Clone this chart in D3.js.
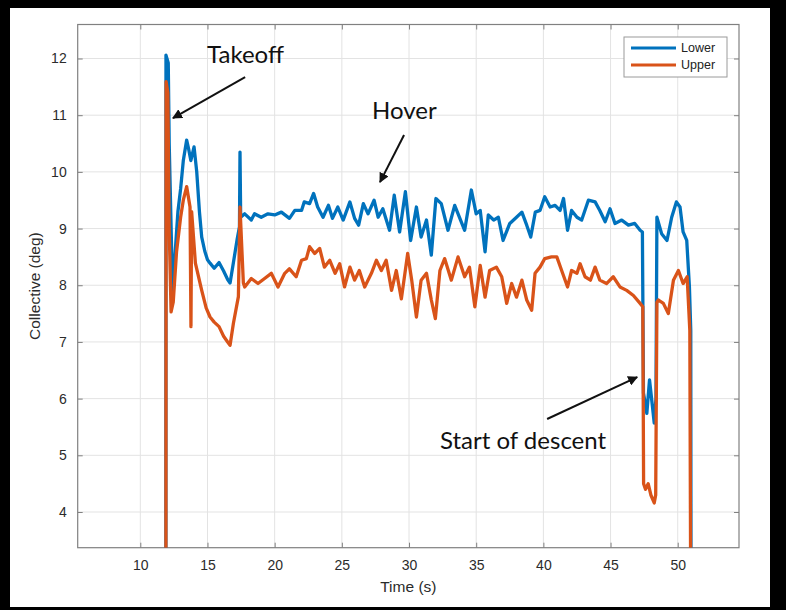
<!DOCTYPE html>
<html>
<head>
<meta charset="utf-8">
<script src="https://cdn.jsdelivr.net/npm/d3@7"></script>
<style>
  html, body { margin: 0; padding: 0; background: #000; }
  svg { display: block; }
</style>
</head>
<body>
<svg id="chart"></svg>
<script>
// collective pitch, lower rotor: [time (s), deg]
const lowerSeries = [
    [11.9, 0], [11.91, 12.06], [12.08, 11.92], [12.15, 10.5], [12.4, 7.91], [12.6, 8.6], [12.8, 9.3],
    [13.0, 9.7], [13.2, 10.2], [13.45, 10.56], [13.6, 10.4], [13.76, 10.2], [14.0, 10.44], [14.2, 10.0],
    [14.4, 9.3], [14.57, 8.85], [14.8, 8.6], [15.0, 8.45], [15.19, 8.39], [15.5, 8.3], [15.86, 8.4],
    [16.2, 8.25], [16.5, 8.1], [16.68, 8.04], [16.93, 8.4], [17.2, 8.8], [17.38, 9.03], [17.42, 10.35],
    [17.47, 9.2], [17.77, 9.26], [18.26, 9.15], [18.5, 9.26], [19.0, 9.2], [19.5, 9.26], [20.0, 9.24],
    [20.5, 9.29], [21.1, 9.18], [21.5, 9.32], [22.0, 9.32], [22.2, 9.47], [22.6, 9.44], [22.9, 9.62],
    [23.2, 9.38], [23.6, 9.2], [24.0, 9.41], [24.3, 9.18], [24.7, 9.38], [25.1, 9.15], [25.6, 9.47],
    [25.95, 9.18], [26.25, 9.06], [26.6, 9.44], [26.95, 9.26], [27.4, 9.5], [27.7, 9.2], [28.05, 9.35],
    [28.55, 8.97], [28.9, 9.59], [29.3, 8.94], [29.73, 9.65], [30.12, 8.79], [30.55, 9.38], [30.9, 8.85],
    [31.3, 9.15], [31.66, 8.53], [32.0, 9.53], [32.4, 9.44], [32.9, 8.97], [33.4, 9.41], [34.14, 8.97],
    [34.64, 9.68], [35.0, 9.26], [35.3, 9.32], [35.66, 8.59], [35.9, 9.24], [36.3, 9.15], [36.65, 9.2],
    [37.0, 8.79], [37.5, 9.09], [38.0, 9.2], [38.4, 9.29], [38.76, 9.06], [39.06, 8.85], [39.4, 9.29],
    [39.75, 9.32], [40.1, 9.56], [40.5, 9.38], [40.87, 9.41], [41.24, 9.32], [41.5, 9.53], [41.8, 8.97],
    [42.1, 9.32], [42.5, 9.2], [42.85, 9.15], [43.35, 9.5], [43.85, 9.47], [44.2, 9.32], [44.6, 9.12],
    [44.96, 9.35], [45.33, 9.09], [45.83, 9.15], [46.33, 9.06], [46.8, 9.09], [47.2, 8.97], [47.37, 8.94],
    [47.45, 6.1], [47.7, 5.74], [47.9, 6.33], [48.1, 5.9], [48.25, 5.57], [48.38, 6.0], [48.45, 9.2],
    [48.8, 8.91], [49.2, 8.79], [49.55, 9.2], [49.9, 9.47], [50.17, 9.38], [50.4, 8.94], [50.67, 8.79],
    [50.87, 7.97], [50.97, 7.2], [51.0, 0]
];

// collective pitch, upper rotor: [time (s), deg]
const upperSeries = [
    [11.9, 0], [11.92, 11.59], [12.05, 11.4], [12.15, 9.0], [12.29, 7.53], [12.45, 7.7], [12.7, 8.6],
    [13.0, 9.2], [13.2, 9.5], [13.45, 9.74], [13.7, 9.38], [13.77, 7.27], [13.82, 9.3], [14.1, 8.39],
    [14.57, 7.91], [14.9, 7.6], [15.19, 7.44], [15.5, 7.35], [15.86, 7.27], [16.2, 7.1], [16.5, 7.0],
    [16.68, 6.94], [16.93, 7.33], [17.3, 7.8], [17.42, 9.38], [17.67, 8.04], [17.77, 7.97], [18.26, 8.12],
    [18.76, 8.03], [19.25, 8.12], [19.75, 8.21], [20.25, 7.97], [20.75, 8.21], [21.1, 8.29], [21.6, 8.15],
    [22.0, 8.44], [22.36, 8.47], [22.6, 8.68], [22.98, 8.56], [23.35, 8.65], [23.7, 8.32], [24.1, 8.44],
    [24.5, 8.21], [24.84, 8.38], [25.2, 7.97], [25.6, 8.32], [25.95, 8.09], [26.3, 8.26], [26.7, 7.97],
    [27.2, 8.21], [27.57, 8.44], [27.94, 8.26], [28.3, 8.44], [28.7, 7.91], [29.05, 8.26], [29.43, 7.76],
    [29.9, 8.56], [30.2, 8.09], [30.55, 7.44], [30.9, 8.09], [31.3, 8.21], [31.66, 7.74], [31.96, 7.41],
    [32.3, 8.26], [32.65, 8.47], [33.15, 8.09], [33.65, 8.5], [34.14, 8.15], [34.5, 8.32], [34.9, 7.62],
    [35.3, 8.35], [35.66, 7.79], [36.0, 8.26], [36.5, 8.32], [36.9, 8.15], [37.27, 7.68], [37.64, 8.03],
    [38.0, 7.79], [38.4, 8.09], [38.76, 7.74], [39.13, 7.56], [39.38, 8.21], [39.75, 8.32], [40.1, 8.47],
    [40.6, 8.5], [41.0, 8.5], [41.36, 8.26], [41.8, 7.97], [42.1, 8.26], [42.5, 8.21], [42.73, 8.38],
    [43.1, 8.15], [43.5, 8.09], [43.85, 8.32], [44.2, 8.09], [44.7, 8.03], [45.2, 8.15], [45.7, 7.97],
    [46.2, 7.91], [46.7, 7.82], [47.2, 7.68], [47.4, 7.62], [47.46, 4.5], [47.6, 4.4], [47.8, 4.5],
    [48.0, 4.3], [48.25, 4.16], [48.36, 4.3], [48.45, 7.7], [48.56, 7.74], [48.93, 7.68], [49.3, 7.5],
    [49.68, 8.09], [50.05, 8.26], [50.4, 8.03], [50.7, 8.15], [50.9, 7.2], [51.0, 0]
];

const seriesNames = ['Lower', 'Upper'];
const seriesColors = ['#0072BD', '#D95319'];
const xTicks = [10, 15, 20, 25, 30, 35, 40, 45, 50];
const yTicks = [4, 5, 6, 7, 8, 9, 10, 11, 12];

// text callouts: label position and arrow tail -> tip, in data units
const callouts = [
    { text: 'Takeoff', at: [14.97, 11.92], from: [17.8, 11.67], to: [12.43, 10.95] },
    { text: 'Hover', at: [27.25, 10.93], from: [29.63, 10.65], to: [27.84, 9.82] },
    { text: 'Start of descent', at: [32.3, 5.11], from: [40.28, 5.64], to: [46.98, 6.38] }
];

const width = 786;
const height = 610;
const margin = { top: 24.5, right: 47, bottom: 62.3, left: 77.7 };
const innerW = width - margin.left - margin.right;
const innerH = height - margin.top - margin.bottom;

const svg = d3.select('#chart')
    .attr('width', width)
    .attr('height', height);

// white figure sheet on black
svg.append('rect')
    .attr('x', 10).attr('y', 8)
    .attr('width', 760).attr('height', 599)
    .attr('fill', '#fff');

const g = svg.append('g')
    .attr('transform', `translate(${margin.left},${margin.top})`);

const x = d3.scaleLinear().domain([5.34, 54.56]).range([0, innerW]);
const y = d3.scaleLinear().domain([3.37, 12.6]).range([innerH, 0]);

g.append('clipPath').attr('id', 'plot-clip')
    .append('rect').attr('width', innerW).attr('height', innerH);

// grid
g.append('g')
    .selectAll('line')
    .data(xTicks)
    .enter()
    .append('line')
        .attr('x1', d => x(d)).attr('x2', d => x(d))
        .attr('y1', 0).attr('y2', innerH)
        .attr('stroke', '#e3e3e3');

g.append('g')
    .selectAll('line')
    .data(yTicks)
    .enter()
    .append('line')
        .attr('x1', 0).attr('x2', innerW)
        .attr('y1', d => y(d)).attr('y2', d => y(d))
        .attr('stroke', '#e3e3e3');

// axes, matlab style: ticks inward on all four sides
const tickStyle = sel => {
    sel.select('.domain').remove();
    sel.selectAll('.tick line').attr('stroke', '#808080');
    sel.selectAll('.tick text')
        .attr('fill', '#2b2b2b')
        .style('font-family', '"Liberation Sans", Arial, sans-serif')
        .style('font-size', '14px');
};

g.append('g')
    .attr('transform', `translate(0,${innerH})`)
    .call(d3.axisBottom(x).tickValues(xTicks).tickSizeInner(-5).tickPadding(12))
    .call(tickStyle);

g.append('g')
    .call(d3.axisTop(x).tickValues(xTicks).tickSizeInner(-5).tickFormat(''))
    .call(tickStyle);

g.append('g')
    .call(d3.axisLeft(y).tickValues(yTicks).tickSizeInner(-5).tickPadding(11))
    .call(tickStyle);

g.append('g')
    .attr('transform', `translate(${innerW},0)`)
    .call(d3.axisRight(y).tickValues(yTicks).tickSizeInner(-5).tickFormat(''))
    .call(tickStyle);

g.append('rect')
    .attr('width', innerW).attr('height', innerH)
    .attr('fill', 'none')
    .attr('stroke', '#808080')
    .attr('stroke-width', 1.2);

// series
const line = d3.line()
    .x(d => x(d[0]))
    .y(d => y(d[1]));

g.append('g')
    .attr('clip-path', 'url(#plot-clip)')
    .selectAll('path')
    .data([lowerSeries, upperSeries])
    .enter()
    .append('path')
        .attr('d', line)
        .attr('fill', 'none')
        .attr('stroke', (d, i) => seriesColors[i])
        .attr('stroke-width', 3.3)
        .attr('stroke-linejoin', 'round');

// axis labels
g.append('text')
    .attr('x', innerW / 2).attr('y', innerH + 44)
    .attr('text-anchor', 'middle')
    .attr('fill', '#2b2b2b')
    .style('font-family', '"Liberation Sans", Arial, sans-serif')
    .style('font-size', '15.5px')
    .text('Time (s)');

g.append('text')
    .attr('transform', `translate(${-38},${innerH / 2}) rotate(-90)`)
    .attr('text-anchor', 'middle')
    .attr('fill', '#2b2b2b')
    .style('font-family', '"Liberation Sans", Arial, sans-serif')
    .style('font-size', '15.5px')
    .text('Collective (deg)');

// legend
const legend = g.append('g')
    .attr('transform', `translate(${innerW - 115},12.5)`);

legend.append('rect')
    .attr('width', 103).attr('height', 40)
    .attr('fill', '#fff')
    .attr('stroke', '#9a9a9a');

legend.selectAll('g.item')
    .data(seriesNames)
    .enter()
    .append('g')
        .attr('class', 'item')
        .attr('transform', (d, i) => `translate(7,${11 + i * 17})`)
        .each(function (d, i) {
            const item = d3.select(this);
            item.append('line')
                .attr('x1', 0).attr('x2', 45)
                .attr('stroke', seriesColors[i])
                .attr('stroke-width', 3);
            item.append('text')
                .attr('x', 50).attr('dy', '0.35em')
                .attr('fill', '#222')
                .style('font-family', '"Liberation Sans", Arial, sans-serif')
                .style('font-size', '12.5px')
                .text(d);
        });

// callouts
svg.append('defs').append('marker')
    .attr('id', 'arrow')
    .attr('viewBox', '0 0 10 10')
    .attr('refX', 9).attr('refY', 5)
    .attr('markerWidth', 5).attr('markerHeight', 5)
    .attr('orient', 'auto')
    .append('path')
        .attr('d', 'M0,0 L10,5 L0,10 z')
        .attr('fill', '#111');

const notes = g.append('g').attr('class', 'callouts');

notes.selectAll('line')
    .data(callouts)
    .enter()
    .append('line')
        .attr('x1', d => x(d.from[0])).attr('y1', d => y(d.from[1]))
        .attr('x2', d => x(d.to[0])).attr('y2', d => y(d.to[1]))
        .attr('stroke', '#111')
        .attr('stroke-width', 2)
        .attr('marker-end', 'url(#arrow)');

notes.selectAll('text')
    .data(callouts)
    .enter()
    .append('text')
        .attr('x', d => x(d.at[0])).attr('y', d => y(d.at[1]))
        .attr('fill', '#111')
        .style('font-family', 'Lato, "Open Sans", sans-serif')
        .style('font-size', '24px')
        .text(d => d.text);
</script>
</body>
</html>
